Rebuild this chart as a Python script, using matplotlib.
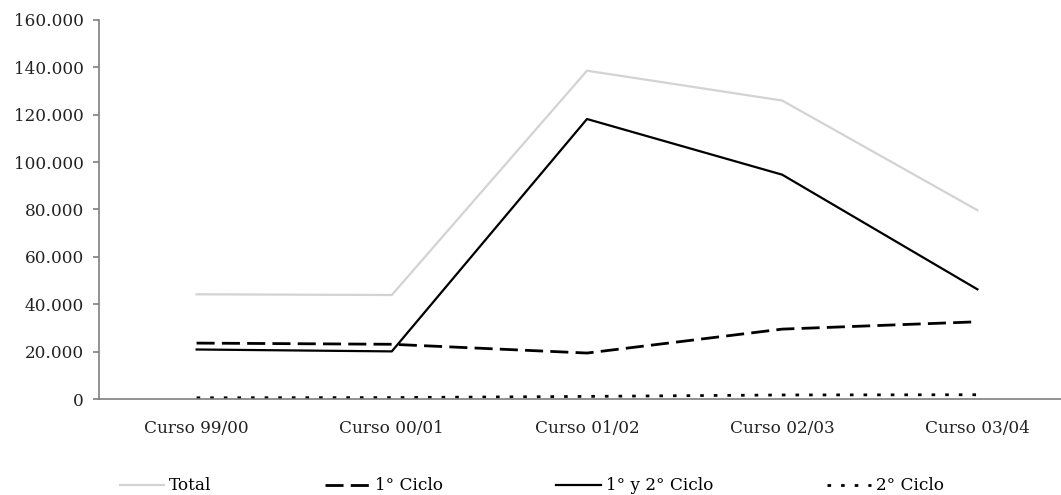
import matplotlib
matplotlib.use('Agg')
import matplotlib.pyplot as plt
from matplotlib.ticker import FuncFormatter, MultipleLocator

# datos
cursos = ['Curso 99/00', 'Curso 00/01', 'Curso 01/02', 'Curso 02/03', 'Curso 03/04']
total = [44200, 43900, 138600, 126000, 79700]
ciclo1 = [23600, 23100, 19400, 29500, 32600]
ciclo12 = [20900, 20100, 118200, 94700, 46300]
ciclo2 = [500, 600, 1100, 1700, 1800]

plt.rcParams['font.family'] = ['DejaVu Serif']
plt.rcParams['font.size'] = 12.2

fig = plt.figure(figsize=(10.61, 4.95), dpi=100)
ax = fig.add_axes([99/1061, 1-399/495, 976/1061, 379/495])

x = range(len(cursos))
ax.plot(x, total, color='#d3d3d3', lw=1.6, label='Total')
ax.plot(x, ciclo1, color='black', lw=2.0, dashes=(6.5, 2.6), label='1° Ciclo')
ax.plot(x, ciclo12, color='black', lw=1.6, label='1° y 2° Ciclo')
ax.plot(x, ciclo2, color='black', lw=2.0, dashes=(1.3, 3.6), label='2° Ciclo')

ax.set_xlim(-0.5, len(cursos) - 0.5)
ax.set_ylim(0, 160000)
ax.yaxis.set_major_locator(MultipleLocator(20000))
ax.yaxis.set_major_formatter(FuncFormatter(lambda v, p: f'{int(v):,}'.replace(',', '.')))
ax.set_xticks(list(x))
ax.set_xticklabels(cursos)

for s in ['top', 'right']:
    ax.spines[s].set_visible(False)
ax.spines['left'].set_color('#7f7f7f')
ax.spines['bottom'].set_color('#7f7f7f')
ax.spines['left'].set_linewidth(1.2)
ax.spines['bottom'].set_linewidth(1.2)
ax.tick_params(axis='y', length=4, width=1.2, color='#7f7f7f', pad=7, labelcolor='#222222')
ax.tick_params(axis='x', length=0, pad=15, labelcolor='#222222')

fig.legend(loc='center left', bbox_to_anchor=(120/1061, 1-486/495, 824/1061, 0.0),
           ncol=4, mode='expand', frameon=False, handlelength=2.6, handletextpad=0.3,
           borderaxespad=0, borderpad=0)

fig.savefig('out.png', dpi=100)
